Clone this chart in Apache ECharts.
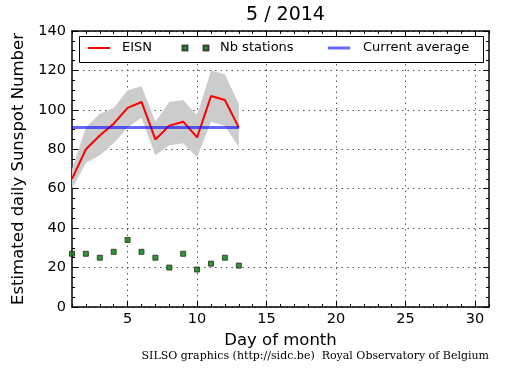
<!DOCTYPE html>
<html>
<head>
<meta charset="utf-8">
<script src="https://cdn.jsdelivr.net/npm/echarts@6/dist/echarts.min.js"></script>
<style>
html,body{margin:0;padding:0;background:#fff;}
#chart{width:515px;height:370px;}
</style>
</head>
<body>
<div id="chart"></div>
<script>
// ---- data ----
const titleText = '5 / 2014';
const days = [1,2,3,4,5,6,7,8,9,10,11,12,13];
const eisn = [65, 80, 87, 93, 101, 104, 85, 92, 94, 86, 107, 105, 91];
const eisnUpper = [70, 91, 98, 101, 110, 112, 94, 104, 105, 97, 120, 118, 103];
const eisnLower = [60, 73, 77, 83, 91, 96, 77, 82, 83, 76, 94, 92, 81];
const nbStations = [27, 27, 25, 28, 34, 28, 25, 20, 27, 19, 22, 25, 21];
const currentAverage = 91;
const monthDays = 31;
const yMin = 0, yMax = 140, yStep = 20;
const footerText = 'SILSO graphics (http://sidc.be)  Royal Observatory of Belgium';

// ---- build ----
const cats = [];
for (let d = 1; d <= monthDays; d++) cats.push(String(d));
const pair = (arr) => days.map((d, i) => [String(d), arr[i]]);
const bandDiff = eisnUpper.map((u, i) => u - eisnLower[i]);
const avgLine = days.map(d => [String(d), currentAverage]);
const major = (idx) => (idx + 1) % 5 === 0;

const FONT = 'DejaVu Sans';
const dotted = {color: '#555', width: 1, type: [1.5, 4]};
const axisLineStyle = {lineStyle: {color: '#000', width: 1.5}};

const chart = echarts.init(document.getElementById('chart'), null, {renderer: 'canvas'});

const baseX = {
  type: 'category', data: cats, boundaryGap: false, gridIndex: 0
};

const option = {
  animation: false,
  backgroundColor: '#fff',
  title: {
    text: titleText, left: 280.5, top: 1, textAlign: 'center',
    textStyle: {fontFamily: FONT, fontSize: 19, fontWeight: 'normal', color: '#000'}
  },
  grid: {left: 72, right: 26, top: 31, bottom: 63, containLabel: false},
  xAxis: [
    Object.assign({}, baseX, {
      position: 'bottom',
      axisLine: axisLineStyle,
      axisTick: {show: true, inside: true, length: 6, interval: major, lineStyle: {color: '#000', width: 1}},
      axisLabel: {interval: major, fontFamily: FONT, fontSize: 14.5, color: '#000', margin: 5},
      splitLine: {show: true, interval: major, lineStyle: dotted},
      name: 'Day of month', nameLocation: 'middle', nameGap: 21,
      nameTextStyle: {fontFamily: FONT, fontSize: 16.5, color: '#000'}
    }),
    Object.assign({}, baseX, {
      position: 'bottom',
      axisLine: {show: false},
      axisTick: {show: true, inside: true, length: 3, interval: 0, lineStyle: {color: '#000', width: 1}},
      axisLabel: {show: false},
      splitLine: {show: false}
    }),
    Object.assign({}, baseX, {
      position: 'top',
      axisLine: axisLineStyle,
      axisTick: {show: true, inside: true, length: 6, interval: major, lineStyle: {color: '#000', width: 1}},
      axisLabel: {show: false},
      splitLine: {show: false}
    }),
    Object.assign({}, baseX, {
      position: 'top',
      axisLine: {show: false},
      axisTick: {show: true, inside: true, length: 3, interval: 0, lineStyle: {color: '#000', width: 1}},
      axisLabel: {show: false},
      splitLine: {show: false}
    })
  ],
  yAxis: [
    {
      type: 'value', min: yMin, max: yMax, interval: yStep, position: 'left',
      axisLine: Object.assign({show: true}, axisLineStyle),
      axisTick: {show: true, inside: true, length: 6, lineStyle: {color: '#000', width: 1}},
      minorTick: {show: true, splitNumber: 4, length: 3, lineStyle: {color: '#000', width: 1}},
      axisLabel: {fontFamily: FONT, fontSize: 14.5, color: '#000', margin: 6},
      splitLine: {show: true, lineStyle: dotted},
      name: 'Estimated daily Sunspot Number', nameLocation: 'middle', nameGap: 37, nameRotate: 90,
      nameTextStyle: {fontFamily: FONT, fontSize: 16.5, color: '#000'}
    },
    {
      type: 'value', min: yMin, max: yMax, interval: yStep, position: 'right',
      axisLine: Object.assign({show: true}, axisLineStyle),
      axisTick: {show: true, inside: true, length: 6, lineStyle: {color: '#000', width: 1}},
      minorTick: {show: true, splitNumber: 4, length: 3, lineStyle: {color: '#000', width: 1}},
      axisLabel: {show: false},
      splitLine: {show: false}
    }
  ],
  legend: [
    {
      left: 88, top: 41.5, padding: 0, itemWidth: 22, itemHeight: 2, icon: 'rect',
      data: ['EISN'], selectedMode: false, z: 12,
      itemStyle: {borderWidth: 0},
      textStyle: {fontFamily: FONT, fontSize: 13, color: '#000', padding: [0, 0, 0, 7]}
    },
    {
      left: 181.5, top: 41.5, padding: 0, itemWidth: 26, itemHeight: 5,
      icon: 'path://M0,0h5v5h-5zM21,0h5v5h-5z',
      data: ['Nb stations'], selectedMode: false, z: 12,
      textStyle: {fontFamily: FONT, fontSize: 13, color: '#000', padding: [0, 0, 0, 6.5]}
    },
    {
      left: 328, top: 41.5, padding: 0, itemWidth: 22, itemHeight: 3, icon: 'rect',
      data: ['Current average'], selectedMode: false, z: 12,
      itemStyle: {borderWidth: 0},
      textStyle: {fontFamily: FONT, fontSize: 13, color: '#000', padding: [0, 0, 0, 8]}
    }
  ],
  graphic: [
    {
      type: 'rect', left: 79, top: 36, z: 10,
      shape: {width: 404, height: 26},
      style: {fill: '#fff', stroke: '#000', lineWidth: 1}
    },
    {
      type: 'text', right: 26, top: 351, z: 10,
      style: {text: footerText, fontFamily: 'DejaVu Serif', fontSize: 11, fill: '#000'}
    }
  ],
  series: [
    {
      name: 'bandLow', type: 'line', data: pair(eisnLower), stack: 'band',
      symbol: 'none', lineStyle: {opacity: 0}, silent: true, z: 1
    },
    {
      name: 'bandRange', type: 'line', data: pair(bandDiff), stack: 'band',
      symbol: 'none', lineStyle: {opacity: 0}, silent: true, z: 1,
      areaStyle: {color: '#cccccc', opacity: 1}
    },
    {
      name: 'EISN', type: 'line', data: pair(eisn), symbol: 'none',
      color: '#ff0000', itemStyle: {color: '#ff0000'},
      lineStyle: {color: '#ff0000', width: 2}, z: 3
    },
    {
      name: 'Nb stations', type: 'scatter', data: pair(nbStations), symbol: 'rect', symbolSize: 5,
      color: '#007a00',
      itemStyle: {color: '#007a00', borderColor: '#1c301c', borderWidth: 1}, z: 4
    },
    {
      name: 'Current average', type: 'line', data: avgLine, symbol: 'none',
      color: 'rgba(0,0,255,0.6)', itemStyle: {color: 'rgba(0,0,255,0.6)'},
      lineStyle: {color: 'rgba(0,0,255,0.6)', width: 3}, z: 3
    }
  ]
};
chart.setOption(option);
</script>
</body>
</html>
